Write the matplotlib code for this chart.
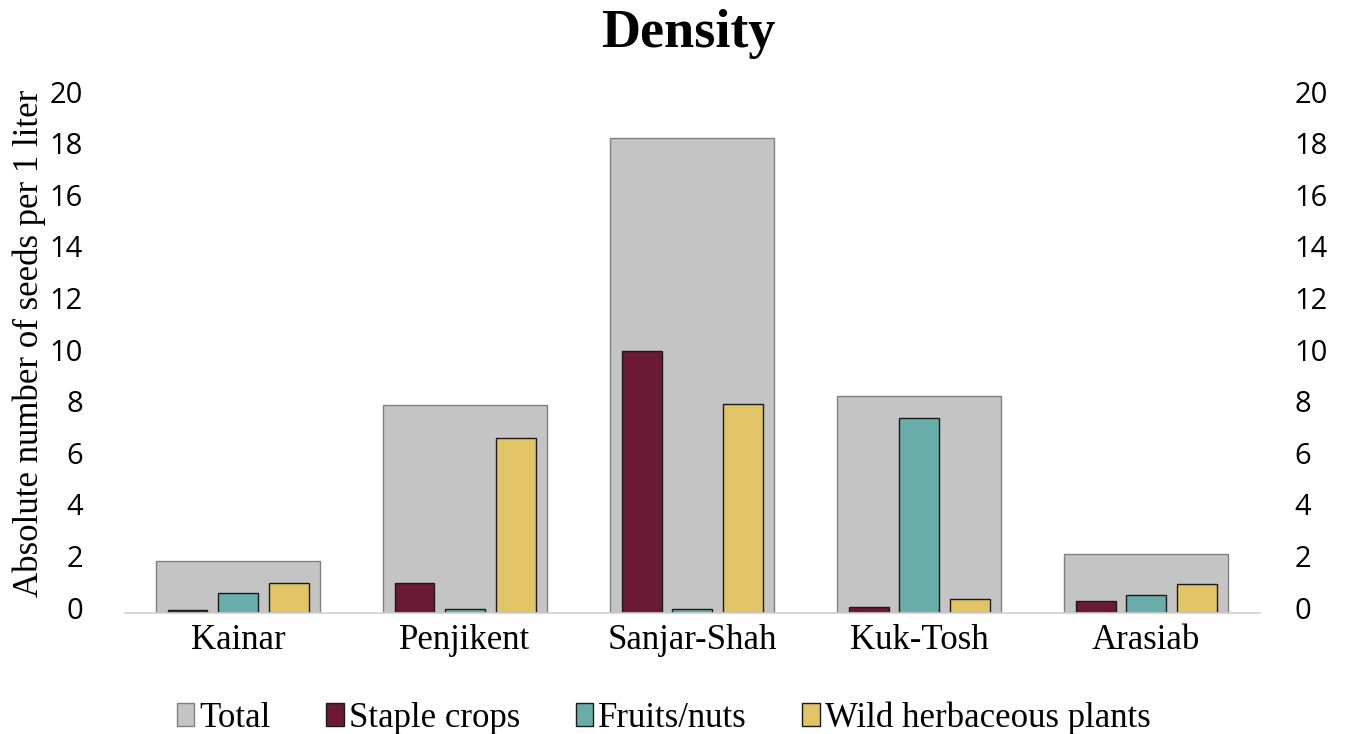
import matplotlib
matplotlib.use("Agg")
import matplotlib.pyplot as plt
import matplotlib.transforms as mtransforms
import numpy as np

# seeds per 1 liter, by site
sites = ["Kainar", "Penjikent", "Sanjar-Shah", "Kuk-Tosh", "Arasiab"]
total = [2.0, 8.05, 18.4, 8.4, 2.25]
staple = [0.1, 1.15, 10.15, 0.23, 0.45]
fruits = [0.75, 0.15, 0.12, 7.55, 0.67]
wild = [1.15, 6.75, 8.1, 0.52, 1.12]
yticks = list(range(0, 21, 2))

serif = "Liberation Serif"
sans = "Open Sans"

fig = plt.figure(figsize=(13.49, 7.34), dpi=100)
ax = fig.add_axes([0.0923, 0.1655, 0.8414, 0.703])

x = np.arange(len(sites))
ax.bar(x, total, width=0.72, color="#c4c4c4", edgecolor="#808080", linewidth=1.0,
       label="Total", zorder=1)
sub_w = 0.176
off = 0.2225
ax.bar(x - off, staple, width=sub_w, color="#6a1a34", edgecolor="#1a1a1a", linewidth=1.0,
       label="Staple crops", zorder=2)
ax.bar(x, fruits, width=sub_w, color="#69adaa", edgecolor="#1a1a1a", linewidth=1.0,
       label="Fruits/nuts", zorder=2)
ax.bar(x + off, wild, width=sub_w, color="#e0c466", edgecolor="#1a1a1a", linewidth=1.0,
       label="Wild herbaceous plants", zorder=2)

ax.set_xlim(-0.5, 4.5)
ax.set_ylim(0, 20)
for s in ["top", "right", "left"]:
    ax.spines[s].set_visible(False)
ax.spines["bottom"].set_color("#d0d0d0")
ax.spines["bottom"].set_linewidth(1.2)

ax.set_xticks(x)
ax.set_xticklabels(sites, fontfamily=serif, fontsize=25)
ax.tick_params(axis="x", length=0, pad=8)
ax.set_yticks(yticks)
ax.set_yticklabels([str(v) for v in yticks], fontfamily=sans, fontsize=21)
ax.tick_params(axis="y", length=0, pad=30)

# same scale repeated on the right side
ax2 = ax.twinx()
ax2.set_ylim(0, 20)
ax2.set_yticks(yticks)
ax2.set_yticklabels([str(v) for v in yticks], fontfamily=sans, fontsize=21)
ax2.tick_params(axis="y", length=0, pad=25)
for s in ax2.spines.values():
    s.set_visible(False)

# nudge the number labels up a little
lift = mtransforms.ScaledTranslation(0, 5 / 100, fig.dpi_scale_trans)
for lab in ax.get_yticklabels() + ax2.get_yticklabels():
    lab.set_transform(lab.get_transform() + lift)

fig.text(0.51, 0.936, "Density", fontfamily=serif, fontweight="bold", fontsize=39,
         ha="center", va="baseline")
fig.text(0.022, 0.532, "Absolute number of seeds per 1 liter", fontfamily=serif,
         fontsize=25, rotation=90, ha="center", va="center")

handles, labels = ax.get_legend_handles_labels()
fig.legend(handles, labels, loc="center", bbox_to_anchor=(0.492, 0.022), ncol=4,
           frameon=False, prop={"family": serif, "size": 25},
           handlelength=0.5, handleheight=0.65, handletextpad=0.15,
           columnspacing=1.6, borderpad=0)

fig.savefig("out.png", dpi=100, facecolor="white")
